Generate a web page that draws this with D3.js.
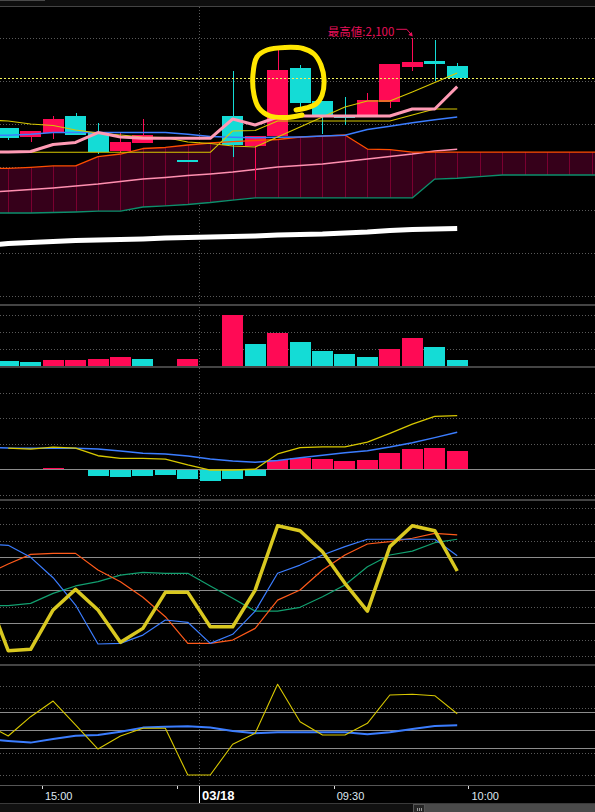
<!DOCTYPE html>
<html><head><meta charset="utf-8">
<script src="https://cdn.jsdelivr.net/npm/d3@7/dist/d3.min.js"></script>
<style>html,body{margin:0;padding:0;background:#000;overflow:hidden}svg{display:block}</style>
</head><body>
<script>
// ---------- DATA ----------
// 5-minute slots; the first slot sits just off the left edge, the last ones are the cloud's future part
const times = ["14:45","14:50","14:55","15:00","15:05","15:10","15:15","15:20","15:25","15:30",
  "09:00","09:05","09:10","09:15","09:20","09:25","09:30","09:35","09:40","09:45","09:50","09:55",
  "10:00","10:05","10:10","10:15","10:20","10:25","10:30"];
const tickTimes  = ["15:00","15:30","09:00","09:30","10:00"];
const tickLabels = ["15:00","","03/18","09:30","10:00"];

const candleOpen  = [null,1995,1985,1990,2009,1990,1969,1978,null,1958,null,2009,1974,1986,2065,2027,2009,2009,2026,2066,2073,2067];
const candleHigh  = [null,1995,1992,2009,2013,2001,1989,2006,null,1958,null,2062,1986,2086,2069,2027,2031,2036,2070,2100,2098,2071];
const candleLow   = [null,1981,1979,1983,1987,1965,1966,1978,null,1958,null,1962,1935,1986,2016,1988,1999,2009,2019,2062,2050,2052];
const candleClose = [null,1984,1992,2006,1987,1968,1979,1987,null,1958,null,1976,1986,2063,2024,2009,2009,2028,2070,2072,2070,2054];

const maBlue   = [1987,1987,1988,1990,1990,1990,1990,1990,1990,1988,1985.5,1984.5,1984,1984.5,1985,1986,1987,1993.5,1997.5,2001.5,2005,2008];
const lineYellowA = [2004.7,2003.5,2000,1998.3,1993,1989.5,1987.2,1984.9,1984.3,1979.1,1977.3,1974.4,1973.3,1984.9,1996.5,2008.1,2019.8,2026.7,2026.7,2037.2,2048.3,2059.3];
const lineYellowB = [1967.1,1967.1,1967.1,1967.1,1967.1,1967.1,1967.1,1967.1,1967.1,1967.1,1967.1,1991.9,1992.4,2003.5,2003.5,2003.5,2003.5,2003.5,2003.5,2010.5,2017.4,2017.4];
const linePinkThick = [1967.4,1967.4,1968,1976.2,1978.5,1990.1,1984.9,1983.4,1983.4,1983.4,1983.4,2005.8,1998.8,2008.1,2009.3,2009.3,2009.3,2009.3,2009.3,2017.4,2017.4,2043.4];
const linePinkThin = [1920.4,1922.1,1923.8,1925.6,1927.9,1930.2,1933.1,1936,1937.8,1940.1,1941.9,1944.2,1947.1,1950,1951.7,1953.5,1956.4,1959.3,1962.2,1965.1,1968.6,1970.6];
const maWhite = [1858.7,1861.1,1862.2,1863.4,1864.5,1865.1,1865.7,1866.3,1867.4,1868,1868.6,1869.2,1869.8,1870.9,1871.5,1872.1,1873.3,1874.4,1876.2,1877.3,1877.9,1878.5];
const cloudTop = [1948.5,1948.5,1949.6,1951.2,1951.2,1962,1965.1,1971.5,1972.7,1975.6,1977.9,1979.6,1980.8,1982,1984.9,1986,1987.2,1970.9,1970.3,1967.4,
  1967.4,1967.4,1967.4,1967.4,1967.4,1967.4,1967.4,1967.4,1967.4];
const cloudBottom = [1896.5,1896.5,1896.5,1897.1,1897.7,1898.8,1898.8,1903.5,1904.7,1906.4,1908.7,1911.6,1914,
  1914,1914,1914,1914,1914,1914,1914,1936,1936.9,1938.7,1940.7,1940.7,1940.7,1940.7,1940.7,1940.7];

const volume   = [null,130,100,160,160,190,250,190,0,190,0,1480,630,960,690,430,340,250,490,810,540,160];
const volumeUp = [null,0,0,1,1,1,1,0,0,1,0,1,0,1,0,0,0,0,1,1,0,0];

const macdHist   = [null,0,-0.5,0.5,-0.5,-2.6,-3.0,-2.6,-2.2,-3.8,-4.6,-3.8,-2.6,3.6,4.4,4.0,3.3,3.6,6.4,8.0,8.4,7.2];
const macdLine   = [null,8.2,7.8,8.6,8.2,5.2,4.2,4.2,3.9,1.6,-0.4,-0.4,-0.1,5.9,8.4,8.7,8.7,10.5,14.0,17.6,20.6,20.9];
const macdSignal = [8.6,8.2,8.1,8.1,8.1,7.8,7.1,6.2,5.9,5.1,3.9,3.1,2.6,3.3,4.4,5.4,6.4,7.2,8.6,10.3,12.3,14.4];

const oscYellow = [49.5,13.2,14.1,38,50.5,38,18.3,26.8,48.7,48.7,27.8,27.8,50.1,89.2,86.2,73.4,54.2,37.3,76.5,89.2,86.2,61.7];
const oscBlue   = [78,77.3,70,57.6,41,17.3,17.7,22.7,31.9,30.5,17.7,23.2,37.3,60.3,65.3,71.4,76.5,81,81,81,81,71];
const oscOrange = [59.7,65.9,71.8,72.4,72.4,62.3,55.2,45.7,33.9,17.7,17.7,19.7,26.8,44,50.1,62.3,71.4,78.1,79.5,81.6,84.6,83.6];
const oscGreen  = [40.6,40.6,42,48.1,52.6,55.2,59.2,60.9,60.3,60.3,52.6,45.1,37.3,37.3,39.6,46,53.2,64.3,71.4,73.8,78.9,81];

const subYellow = [27,-25.4,60.7,130.8,23.7,-83.5,-25.4,8.9,8.9,-199.6,-199.6,-62.5,-13.4,205.4,38.4,-21,-21,31.3,157.6,160.7,154.5,74.1];
const subBlue   = [-39,-48,-55,-39,-24,-21,-6,12,16,18,12,-3,-13,-9,-9,-9,-9,-18,-9,6,19,22];

// hand-drawn highlight, in (slot index, price) units
const circleIdx   = [12.82,13.27,13.71,13.98,14.07,13.93,13.62,13.13,12.33,11.53,11.08,10.9,10.95,11.17,11.66,12.42,13.09];
const circlePrice = [2016.3,2018.6,2023.3,2033.7,2051.2,2068.6,2081.4,2087.8,2089,2086,2077.9,2057,2033.7,2018.6,2009.3,2007.6,2010.5];

const mainGrid = [2100,2050,2000,1950,1900,1850,1800];
const volGrid = [0,500,1000,1500];
const macdGrid = [-10,10,20,30];
const oscDotted = [100,90,80,60,40,20,10], oscSolid = [70,50,30];
const subDotted = [200,100,-100,-200], subSolid = [80,0,-80];

// ---------- LAYOUT ----------
const W = 595, H = 812;
const RED = "#ff0a55", CYAN = "#14dcd6";
const P = {
  main:{top:7,bottom:304}, vol:{top:307,bottom:366}, macd:{top:368,bottom:499},
  osc:{top:501,bottom:664}, sub:{top:666,bottom:785}
};
const STEP = 22.45, C0 = 8.2;
const xb = d3.scaleBand().domain(times)
  .range([C0 - STEP*1.5, C0 - STEP*1.5 + STEP*times.length])
  .paddingInner(1-21/STEP).paddingOuter((1-21/STEP)/2);
const cx = t => xb(t) + xb.bandwidth()/2;
const xIdx = d3.scaleLinear().domain([-1, times.length-2]).range([cx(times[0]), cx(times[times.length-1])]);
const leftEdge = t => cx(t) - xb.step()/2;

const yMain = d3.scaleLinear().domain([2100,1900]).range([38,210]);
const yVol  = d3.scaleLinear().domain([0,500]).range([365.5,348.5]);
const yMacd = d3.scaleLinear().domain([0,10]).range([469,443.5]);
const yOsc  = d3.scaleLinear().domain([100,10]).range([508,656]);
const ySub  = d3.scaleLinear().domain([0,100]).range([730.3,707.9]);

const svg = d3.select("body").append("svg").attr("width",W).attr("height",H)
  .style("background","#000").style("font-family","'Liberation Sans', Arial, sans-serif");
const defs = svg.append("defs");
Object.entries(P).forEach(([k,p])=>{
  defs.append("clipPath").attr("id","clip-"+k).append("rect")
    .attr("x",0).attr("y",p.top).attr("width",W).attr("height",p.bottom-p.top);
});
const layer = k => svg.append("g").attr("clip-path","url(#clip-"+k+")");

// top strip
svg.append("rect").attr("x",0).attr("y",0).attr("width",W).attr("height",6).attr("fill","#0e0e0e");
svg.append("rect").attr("x",0).attr("y",0).attr("width",45).attr("height",1).attr("fill","#4a4a4a");
svg.append("line").attr("x1",0).attr("x2",W).attr("y1",6.5).attr("y2",6.5).attr("stroke","#444");

// separators
[305,367,500,665].forEach(y=>{
  svg.append("line").attr("x1",0).attr("x2",W).attr("y1",y).attr("y2",y)
    .attr("stroke","#444").attr("stroke-width",2);
});

function dotted(g, ys, color){
  g.selectAll(null).data(ys).join("line")
    .attr("x1",0).attr("x2",W).attr("y1",d=>Math.round(d)+0.5).attr("y2",d=>Math.round(d)+0.5)
    .attr("stroke",color||"#5a5a5a").attr("stroke-dasharray","1,2");
}
function solid(g, ys){
  g.selectAll(null).data(ys).join("line")
    .attr("x1",0).attr("x2",W).attr("y1",d=>Math.round(d)+0.5).attr("y2",d=>Math.round(d)+0.5)
    .attr("stroke","#8c8c8c").attr("stroke-width",1);
}
function series(arr){ return arr.map((v,i)=>({t:times[i], v})); }
function drawLine(g, arr, yS, color, w){
  const gen = d3.line().defined(d=>d.v!=null).x(d=>cx(d.t)).y(d=>yS(d.v));
  g.append("path").datum(series(arr)).attr("d",gen).attr("fill","none")
    .attr("stroke",color).attr("stroke-width",w).attr("stroke-linejoin","round");
}

const dayX = leftEdge(tickTimes[2]);

// ---------- MAIN ----------
const gm = layer("main");
dotted(gm, mainGrid.map(yMain));
gm.append("line").attr("x1",Math.round(dayX)+0.5).attr("x2",Math.round(dayX)+0.5).attr("y1",P.main.top).attr("y2",P.main.bottom)
  .attr("stroke","#5a5a5a").attr("stroke-dasharray","1,2");

const cloudData = times.map((t,i)=>({t, a:cloudTop[i], b:cloudBottom[i]}));
gm.append("path").datum(cloudData)
  .attr("d", d3.area().x(d=>cx(d.t)).y0(d=>yMain(d.b)).y1(d=>yMain(d.a)))
  .attr("fill","#36001a");
gm.selectAll(null).data(cloudData).join("line")
  .attr("x1",d=>Math.round(cx(d.t))+0.5).attr("x2",d=>Math.round(cx(d.t))+0.5)
  .attr("y1",d=>yMain(d.a)).attr("y2",d=>yMain(d.b))
  .attr("stroke","#7a0030").attr("stroke-width",1);

drawLine(gm, linePinkThin, yMain, "#ff8fb0", 1.4);
drawLine(gm, maWhite, yMain, "#ffffff", 5);

// candles
const candles = times.slice(0,candleOpen.length).map((t,i)=>({t,o:candleOpen[i],h:candleHigh[i],l:candleLow[i],c:candleClose[i]}))
  .filter(d=>d.o!=null);
const cg = gm.append("g").attr("shape-rendering","crispEdges");
cg.selectAll(null).data(candles).join("line")
  .attr("x1",d=>Math.round(cx(d.t))+0.5).attr("x2",d=>Math.round(cx(d.t))+0.5)
  .attr("y1",d=>yMain(d.h)).attr("y2",d=>yMain(d.l))
  .attr("stroke",d=>d.c>d.o?RED:CYAN);
cg.selectAll(null).data(candles).join("rect")
  .attr("x",d=>xb(d.t)).attr("width",xb.bandwidth())
  .attr("y",d=>yMain(Math.max(d.o,d.c)))
  .attr("height",d=>Math.max(1.5, Math.abs(yMain(d.o)-yMain(d.c))))
  .attr("fill",d=>d.c>d.o?RED:CYAN);

drawLine(gm, cloudTop, yMain, "#ff4d00", 1.3);
drawLine(gm, cloudBottom, yMain, "#0c8f6c", 1.3);
drawLine(gm, maBlue, yMain, "#3b7dff", 1.5);
drawLine(gm, lineYellowB, yMain, "#d8c800", 1.1);
drawLine(gm, lineYellowA, yMain, "#d8c800", 1.1);
drawLine(gm, linePinkThick, yMain, "#ff9ab4", 3);

// last price line
const lastClose = candleClose[candleClose.length-1];
gm.append("line").attr("x1",0).attr("x2",W).attr("y1",Math.round(yMain(lastClose))+0.5).attr("y2",Math.round(yMain(lastClose))+0.5)
  .attr("stroke","#f4f45a").attr("stroke-dasharray","2,2");

// highest value label
const hiIdx = d3.maxIndex(candleHigh);
const hx = cx(times[hiIdx]), hy = yMain(candleHigh[hiIdx]);
gm.append("text").attr("x",hx-18).attr("y",hy-2.5).attr("text-anchor","end")
  .attr("font-family","'Noto Sans CJK JP', sans-serif").attr("font-size",11.5).attr("fill","#e8105a")
  .text("最高値:" + d3.format(",")(candleHigh[hiIdx]));
gm.append("path").attr("d",`M${hx-16},${hy-8.7}L${hx-5.5},${hy-8.7}L${hx-1.5},${hy-4}`)
  .attr("fill","none").attr("stroke","#e8105a").attr("stroke-width",1);
gm.append("path").attr("d",`M${hx+0.5},${hy-1.5}L${hx-4},${hy-3}L${hx-0.5},${hy-6}Z`).attr("fill","#e8105a");

// hand-drawn highlight
const circ = circleIdx.map((v,i)=>[xIdx(v), yMain(circlePrice[i])]);
gm.append("path").attr("d", d3.line().curve(d3.curveCatmullRom.alpha(0.5))(circ))
  .attr("fill","none").attr("stroke","#ffe600").attr("stroke-width",5)
  .attr("stroke-linecap","round").attr("stroke-linejoin","round");

// ---------- VOLUME ----------
const gv = layer("vol");
dotted(gv, volGrid.map(yVol));
gv.append("line").attr("x1",Math.round(dayX)+0.5).attr("x2",Math.round(dayX)+0.5).attr("y1",P.vol.top).attr("y2",P.vol.bottom)
  .attr("stroke","#5a5a5a").attr("stroke-dasharray","1,2");
const vols = volume.map((v,i)=>({t:times[i], v, up:volumeUp[i]})).filter(d=>d.v);
gv.selectAll(null).data(vols).join("rect").attr("shape-rendering","crispEdges")
  .attr("x",d=>xb(d.t)).attr("width",xb.bandwidth())
  .attr("y",d=>yVol(d.v)).attr("height",d=>yVol(0)-yVol(d.v))
  .attr("fill",d=>d.up?RED:CYAN);

// ---------- MACD ----------
const gd = layer("macd");
dotted(gd, macdGrid.map(yMacd));
gd.append("line").attr("x1",Math.round(dayX)+0.5).attr("x2",Math.round(dayX)+0.5).attr("y1",P.macd.top).attr("y2",P.macd.bottom)
  .attr("stroke","#5a5a5a").attr("stroke-dasharray","1,2");
const hist = macdHist.map((v,i)=>({t:times[i], v})).filter(d=>d.v!=null && d.v!==0);
gd.selectAll(null).data(hist).join("rect").attr("shape-rendering","crispEdges")
  .attr("x",d=>xb(d.t)).attr("width",xb.bandwidth())
  .attr("y",d=>yMacd(Math.max(0,d.v))).attr("height",d=>Math.abs(yMacd(d.v)-yMacd(0)))
  .attr("fill",d=>d.v>0?RED:CYAN);
solid(gd, [yMacd(0)]);
drawLine(gd, macdSignal, yMacd, "#3b7dff", 1.5);
drawLine(gd, macdLine, yMacd, "#d8c800", 1.3);

// ---------- OSCILLATOR ----------
const go = layer("osc");
dotted(go, oscDotted.map(yOsc));
solid(go, oscSolid.map(yOsc));
go.append("line").attr("x1",Math.round(dayX)+0.5).attr("x2",Math.round(dayX)+0.5).attr("y1",P.osc.top).attr("y2",P.osc.bottom)
  .attr("stroke","#5a5a5a").attr("stroke-dasharray","1,2");
drawLine(go, oscGreen, yOsc, "#12a070", 1.2);
drawLine(go, oscOrange, yOsc, "#ff5a1a", 1.2);
drawLine(go, oscBlue, yOsc, "#3b7dff", 1.2);
drawLine(go, oscYellow, yOsc, "#d9c820", 3.5);

// ---------- SUB ----------
const gs = layer("sub");
dotted(gs, subDotted.map(ySub));
solid(gs, subSolid.map(ySub));
gs.append("line").attr("x1",Math.round(dayX)+0.5).attr("x2",Math.round(dayX)+0.5).attr("y1",P.sub.top).attr("y2",P.sub.bottom)
  .attr("stroke","#5a5a5a").attr("stroke-dasharray","1,2");
drawLine(gs, subBlue, ySub, "#3b7dff", 2);
drawLine(gs, subYellow, ySub, "#d8c800", 1.1);

// ---------- X AXIS ----------
svg.append("line").attr("x1",0).attr("x2",W).attr("y1",785.5).attr("y2",785.5).attr("stroke","#555");
const ticks = tickTimes.map((t,i)=>({t, label:tickLabels[i], day: t===tickTimes[2]}));
const ax = svg.append("g");
ax.selectAll(null).data(ticks).join("line")
  .attr("x1",d=>Math.round(leftEdge(d.t))+0.5).attr("x2",d=>Math.round(leftEdge(d.t))+0.5)
  .attr("y1",786).attr("y2",d=>d.day?803:789)
  .attr("stroke",d=>d.day?"#ffffff":"#dddddd");
ax.selectAll(null).data(ticks).join("text")
  .attr("x",d=>leftEdge(d.t)+3).attr("y",799.5)
  .attr("font-size",d=>d.day?13:11).attr("font-weight",d=>d.day?"bold":"normal")
  .attr("fill",d=>d.day?"#ffffff":"#dfe8f2")
  .text(d=>d.label);

// scrollbar
svg.append("rect").attr("x",0).attr("y",803).attr("width",W).attr("height",9).attr("fill","#111");
svg.append("line").attr("x1",0).attr("x2",W).attr("y1",803.5).attr("y2",803.5).attr("stroke","#3a3a3a");
svg.append("rect").attr("x",425).attr("y",804).attr("width",W-425).attr("height",8).attr("fill","#4a4a4a");
svg.append("rect").attr("x",413.5).attr("y",804.5).attr("width",11).attr("height",8).attr("fill","#262626").attr("stroke","#555");
[417,419,421].forEach(x=>svg.append("line").attr("x1",x+0.5).attr("x2",x+0.5).attr("y1",808).attr("y2",811).attr("stroke","#999"));
</script>
</body></html>
